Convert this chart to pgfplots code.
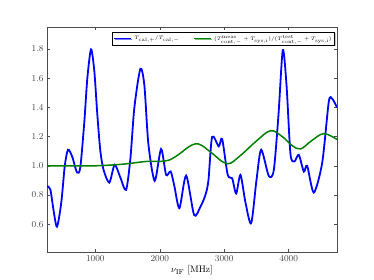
\documentclass[border=0pt]{standalone}
\usepackage{pgfplots}
\pgfplotsset{compat=1.18}
\usetikzlibrary{shadows}
\definecolor{mblue}{rgb}{0,0,1}
\definecolor{mgreen}{rgb}{0,0.5,0}
\begin{document}
\begin{tikzpicture}
\path[use as bounding box] (0,0) rectangle (374pt,280pt);
\begin{axis}[
  at={(47pt,28pt)}, anchor=south west,
  scale only axis, width=290pt, height=225pt,
  xmin=250, xmax=4750, ymin=0.41, ymax=1.95,
  xtick={1000,2000,3000,4000},
  ytick={0.6,0.8,1.0,1.2,1.4,1.6,1.8},
  yticklabel style={/pgf/number format/.cd,fixed,fixed zerofill,precision=1},
  xticklabel style={/pgf/number format/.cd,set thousands separator={}},
  tick label style={font=\fontsize{9}{10}\selectfont, text=black!75},
  tick align=inside, tick style={black!70, thin}, major tick length=3pt,
  axis line style={black!70},
  xlabel={$\nu_{\rm IF}$ [MHz]},
  xlabel style={font=\fontsize{9.5}{11}\selectfont, yshift=3pt},
  legend style={at={(0.993,0.978)}, anchor=north east, font=\fontsize{5}{6}\selectfont,
    draw=black, line width=0.6pt, legend columns=2, inner sep=1pt,
    drop shadow={shadow xshift=1pt, shadow yshift=-1pt, fill=black!40},
    /tikz/every even column/.append style={column sep=12pt}},
  legend cell align=left,
]
\addplot[mblue, line width=1.8pt, smooth, tension=0.45] coordinates {
(250,0.86) (301,0.84) (350,0.70) (405,0.583) (472,0.75) (526,1.0) (576,1.11)
(643,1.06) (716,0.954) (767,0.99) (829,1.3) (876,1.6) (933,1.797) (984,1.65)
(1031,1.35) (1078,1.1) (1129,0.97) (1217,0.885) (1300,1.007) (1388,0.92)
(1477,0.835) (1544,1.05) (1606,1.4) (1699,1.664) (1761,1.55) (1823,1.15)
(1921,0.897) (2020,1.115) (2098,0.938) (2169,0.961) (2227,0.86) (2305,0.71)
(2409,0.933) (2533,0.663) (2631,0.72) (2708,0.80) (2755,0.9) (2812,1.197)
(2915,1.133) (2968,1.183) (3054,0.938) (3123,0.915) (3185,0.81) (3252,0.938)
(3329,0.75) (3418,0.606) (3500,0.9) (3573,1.11) (3691,0.931) (3769,0.97)
(3842,1.35) (3909,1.792) (3967,1.55) (4028,1.08) (4090,1.03) (4157,1.075)
(4235,0.96) (4287,1.0) (4390,0.817) (4520,1.02) (4623,1.44) (4676,1.458)
(4727,1.42) (4750,1.40)
};
\addlegendentry{$T_{\rm cal,+}/T_{\rm cal,-}$}
\addplot[mgreen, line width=1.5pt, smooth, tension=0.6] coordinates {
(250,1.0) (700,1.0) (1000,1.0) (1400,1.01) (1800,1.03) (2000,1.03) (2150,1.04)
(2300,1.08) (2450,1.13) (2553,1.15) (2650,1.14) (2800,1.09) (3045,1.014)
(3250,1.07) (3500,1.17) (3718,1.24) (3900,1.20) (4050,1.14) (4184,1.115)
(4350,1.17) (4545,1.22) (4750,1.18)
};
\addlegendentry{$(T^{\rm meas}_{\rm cont,-}+T_{\rm sys,i})/(T^{\rm test}_{\rm cont,-}+T_{\rm sys,i})$}
\end{axis}
\end{tikzpicture}
\end{document}
